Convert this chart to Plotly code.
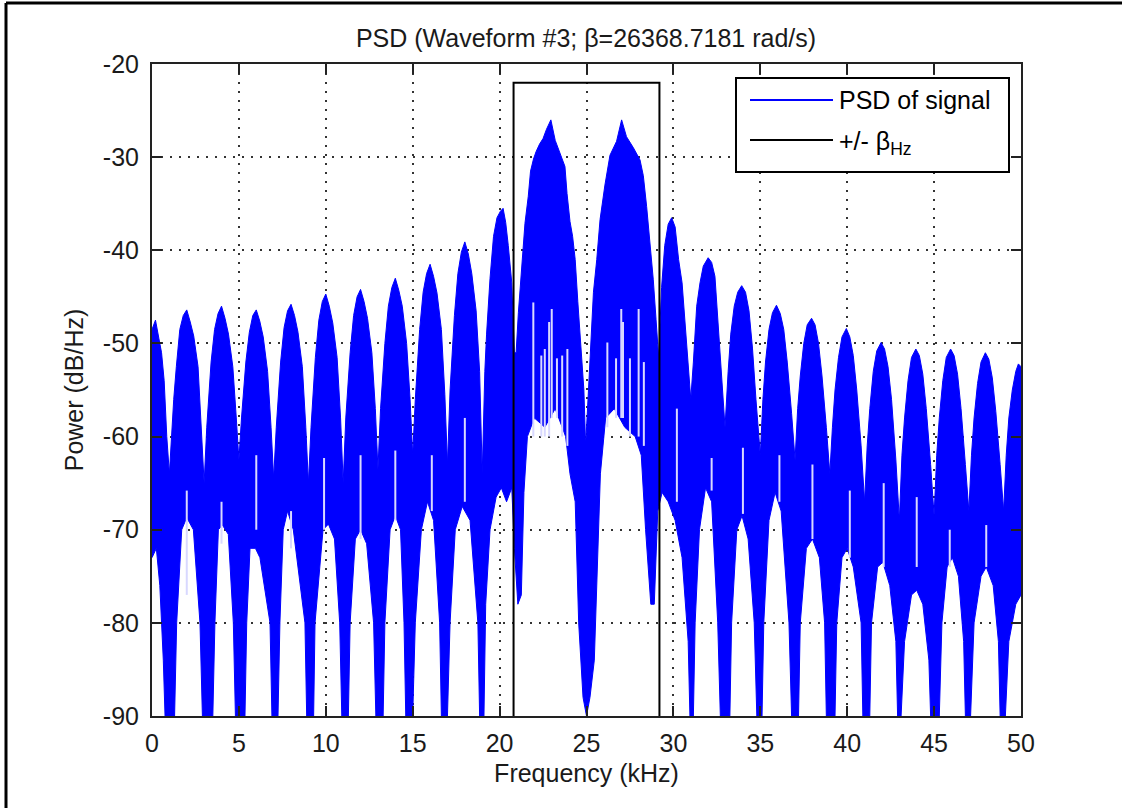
import math
import plotly.graph_objects as go

# ---------------- data ----------------
# Upper envelope of the PSD trace (frequency in kHz, power in dB/Hz)
upper_f = [0.0, 0.2, 0.4, 0.55, 0.7, 0.85, 1.0,
           1.15, 1.25, 1.4, 1.6, 1.8, 2.0, 2.2, 2.4, 2.65, 2.85, 3.0,
           3.15, 3.25, 3.4, 3.6, 3.8, 4.0, 4.2, 4.4, 4.65, 4.85, 5.0,
           5.15, 5.25, 5.4, 5.6, 5.8, 6.0, 6.2, 6.4, 6.65, 6.85, 7.0,
           7.15, 7.25, 7.4, 7.6, 7.8, 8.0, 8.2, 8.4, 8.65, 8.85, 9.0,
           9.15, 9.25, 9.4, 9.6, 9.8, 10.0, 10.2, 10.4, 10.65, 10.85, 11.0,
           11.15, 11.25, 11.4, 11.6, 11.8, 12.0, 12.2, 12.4, 12.65, 12.85, 13.0,
           13.15, 13.25, 13.4, 13.6, 13.8, 14.0, 14.2, 14.4, 14.65, 14.85, 15.0,
           15.15, 15.25, 15.4, 15.6, 15.8, 16.0, 16.2, 16.4, 16.65, 16.85, 17.0,
           17.15, 17.25, 17.4, 17.6, 17.8, 18.0, 18.2, 18.4, 18.65, 18.85, 19.0,
           19.15, 19.25, 19.45, 19.65, 19.85, 20.05, 20.2, 20.35, 20.5, 20.7, 20.85,
           20.95, 21.08, 21.27, 21.46, 21.65, 21.78, 21.95, 22.1, 22.3, 22.5, 22.7,
           22.95, 23.2, 23.4, 23.6, 23.76, 23.88, 24.05, 24.2, 24.35, 24.5, 24.7,
           24.85, 24.95,
           25.1, 25.22, 25.4, 25.59, 25.78, 26.06, 26.35, 26.73, 27.02, 27.3, 27.7,
           28.08, 28.27, 28.46, 28.65, 28.84, 29.0, 29.15,
           29.32, 29.5, 29.7, 29.9, 30.1, 30.3, 30.5, 30.7, 30.85, 31.0,
           31.15, 31.34, 31.53, 31.72, 32.0, 32.2, 32.39, 32.58, 32.78, 32.97,
           33.15, 33.3, 33.5, 33.7, 33.93, 34.15, 34.35, 34.55, 34.75, 35.0,
           35.15, 35.3, 35.5, 35.7, 35.93, 36.15, 36.35, 36.55, 36.8, 37.0,
           37.15, 37.3, 37.5, 37.7, 37.95, 38.15, 38.35, 38.55, 38.8, 39.0,
           39.15, 39.3, 39.5, 39.7, 39.95, 40.15, 40.35, 40.55, 40.8, 41.0,
           41.15, 41.3, 41.5, 41.7, 41.95, 42.15, 42.35, 42.55, 42.8, 43.0,
           43.15, 43.3, 43.5, 43.7, 43.95, 44.15, 44.35, 44.55, 44.8, 45.0,
           45.15, 45.3, 45.5, 45.7, 45.95, 46.15, 46.35, 46.55, 46.8, 47.0,
           47.15, 47.3, 47.5, 47.7, 47.95, 48.15, 48.35, 48.55, 48.8, 49.0,
           49.15, 49.3, 49.5, 49.7, 49.85, 50.0]
upper_db = [-48.5, -47.5, -49.5, -51, -54, -60, -64,
            -59, -56, -52.5, -48.5, -47, -46.4, -47.7, -49.2, -52.5, -59, -65,
            -59, -56, -52, -48.5, -46.8, -46.0, -47.3, -49, -52.5, -58, -62.5,
            -58, -55.5, -52, -48.8, -47, -46.4, -47.6, -49.3, -53, -59, -64.5,
            -59, -56, -52, -48.3, -46.5, -45.8, -47, -48.8, -52.5, -59, -65,
            -59, -55.5, -51.5, -47.5, -45.5, -44.7, -46, -47.8, -51.5, -58, -65,
            -58, -55, -51, -47, -45, -44.2, -45.5, -47.3, -51, -57, -63.5,
            -57, -54, -50, -46, -44, -43.0, -44.3, -46, -50, -56, -62,
            -56, -53, -48.5, -44.5, -42.5, -41.5, -42.8, -44.6, -48.5, -55.5, -63,
            -55, -52, -47, -42.5, -40.2, -39.1, -40.4, -42.5, -46.5, -53, -64,
            -53, -49, -43, -38.5, -36.5, -35.8, -35.5, -37, -39.5, -43.5, -51,
            -51, -46.7, -42.3, -37.1, -34.2, -31.5, -30.2, -29.4, -28.6, -28, -27,
            -26, -28.2, -29.2, -30.1, -31, -33.9, -36.9, -38.5, -41, -45.5, -51.5,
            -55, -61,
            -55, -50, -44.5, -41, -36.7, -33, -29.8, -28.3, -26, -27.8, -29,
            -30.3, -32, -35.3, -39.2, -43.1, -47.4, -51.5,
            -44, -39.5, -37.2, -36.5, -37.5, -41, -43.5, -48.5, -53, -56,
            -52, -46, -43.5, -41.7, -40.8, -41.3, -42.8, -48, -53.8, -59,
            -53, -49, -46, -44.5, -43.8, -44.5, -46.5, -50.5, -56, -62,
            -56, -52, -48.5, -46.7, -45.9, -46.8, -48.5, -52, -57.5, -62.5,
            -57, -53.5, -50, -48, -47.3, -48, -50, -53.5, -59, -64,
            -59, -55, -51.5, -49.3, -48.4, -49.3, -51.3, -55, -61, -67,
            -61, -57, -53, -50.8, -49.9, -50.6, -52.5, -56, -62.5, -69,
            -62, -58, -54, -51.5, -50.6, -51.3, -53.3, -57, -63, -68.5,
            -62, -58, -54, -51.5, -50.6, -51.3, -53.3, -57, -63, -68,
            -62, -58, -54.3, -52, -51, -51.7, -53.7, -57.3, -63, -68,
            -62, -58, -55, -53, -52.2, -52.5]

# Lower envelope of the PSD trace
lower_f = [0.0, 0.25, 0.45, 0.65, 0.75, 1.3, 1.42, 1.71, 2.0, 2.38, 2.76, 2.9,
           3.5, 3.62, 3.82, 4.05, 4.39, 4.68, 4.8, 5.35, 5.45, 5.64, 5.95, 6.21,
           6.79, 6.9, 7.25, 7.36, 7.55, 7.8, 8.13, 8.8, 8.9, 9.3, 9.38, 9.84,
           10.15, 10.5, 10.8, 10.92, 11.3, 11.4, 11.7, 12.0, 12.35, 12.75, 12.88,
           13.3, 13.4, 13.7, 14.0, 14.3, 14.5, 14.6, 15.0, 15.15, 15.5, 15.85,
           16.2, 16.55, 16.65, 17.0, 17.15, 17.45, 17.85, 18.3, 18.75, 18.85,
           19.1, 19.2, 19.45, 19.8, 20.1, 20.4, 20.7, 20.85, 21.05, 21.25, 21.4, 21.6,
           22.0, 22.6, 23.2, 23.8, 24.05, 24.35, 24.55, 24.8, 25.0, 25.2, 25.45,
           25.65, 25.8, 26.1, 26.6, 27.2, 27.8, 28.15, 28.4, 28.7, 28.9, 29.1,
           29.35, 29.7, 30.1, 30.5, 30.85, 30.95, 31.15, 31.25, 31.5, 31.85,
           32.2, 32.55, 32.7, 33.25, 33.35, 33.65, 33.95, 34.3, 34.65, 34.8,
           35.1, 35.2, 35.5, 35.85, 36.2, 36.65, 36.8, 37.2, 37.3, 37.65, 38.0,
           38.4, 38.7, 38.8, 39.3, 39.4, 39.7, 40.0, 40.35, 40.8, 40.9, 41.3,
           41.4, 41.75, 42.05, 42.45, 42.8, 42.9, 43.1, 43.3, 43.7, 44.0, 44.35,
           44.7, 44.8, 45.3, 45.45, 45.75, 46.05, 46.4, 46.7, 46.8, 47.1, 47.3,
           47.7, 48.0, 48.4, 48.7, 48.8, 49.1, 49.3, 49.7, 50.0]
lower_db = [-73, -72, -76, -84, -90, -90, -80, -70, -68.7, -70, -80, -90,
            -90, -80, -70, -69.5, -70.5, -80, -90, -90, -80, -72, -72, -73,
            -80, -90, -90, -80, -70, -68, -70, -80, -90, -90, -80, -70,
            -69.4, -71, -80, -90, -90, -80, -71, -70, -71.5, -80, -90,
            -90, -80, -70, -68.5, -70, -80, -90, -90, -80, -70, -67,
            -69, -80, -90, -90, -80, -70, -67.5, -69, -80, -90,
            -90, -78, -70, -66.5, -65.5, -67, -65.5, -72, -78, -77, -66, -60,
            -58, -59, -57, -60, -64, -67, -80, -88, -90, -88, -84,
            -72, -64, -58, -57, -59, -60, -62, -70, -78, -78, -68,
            -66, -67, -69, -73, -82, -90, -90, -80, -70, -65.5,
            -67, -80, -90, -90, -80, -70, -68.5, -71, -80, -90,
            -90, -80, -69, -66, -68, -80, -90, -90, -80, -72, -71,
            -73, -80, -90, -90, -80, -73, -72, -74, -80, -90, -90,
            -80, -74, -73.5, -76, -82, -90, -90, -82, -77, -76.5, -78,
            -84, -90, -90, -80, -74, -73, -75, -82, -90, -90, -80,
            -75, -74, -76, -82, -90, -90, -82, -78, -77]

# Thin white notches visible inside the blue band (frequency, top dB, bottom dB)
notch_f = [21.94, 22.4, 22.6, 22.85, 23.0, 23.3, 23.6, 23.9,
           26.2, 26.7, 27.0, 27.1, 27.5, 28.0, 28.3,
           2.0, 4.0, 6.0, 8.0, 9.9, 12.0, 14.0, 16.1, 18.0,
           30.2, 32.2, 34.0, 36.1, 38.0, 40.15, 42.1, 44.0, 45.9, 48.0]
notch_top = [-45.6, -51.3, -50.6, -47.7, -46.3, -51.6, -51.3, -50.6,
             -49.9, -51.6, -46.3, -47.7, -51.6, -46.3, -52.0,
             -65.8, -67.0, -62.0, -68.0, -62.3, -62.0, -61.5, -62.0, -58.0,
             -57.0, -62.3, -61.2, -62.0, -63.0, -65.8, -65.0, -66.5, -70.0, -69.5]
notch_bot = [-60.0, -60.0, -60.0, -60.0, -58.0, -58.0, -60.0, -61.0,
             -59.0, -58.0, -58.0, -58.0, -60.0, -60.0, -61.0,
             -77.0, -71.5, -70.0, -72.0, -70.0, -71.0, -69.0, -68.0, -67.0,
             -67.0, -65.8, -68.3, -67.0, -71.0, -73.0, -74.0, -74.0, -74.0, -74.0]

# +/- beta_Hz box
beta_rad = 26368.7181            # rad/s, from the title
center_khz = 25.0
box_top_db = -22.0

x_ticks = [0, 5, 10, 15, 20, 25, 30, 35, 40, 45, 50]
y_ticks = [-90, -80, -70, -60, -50, -40, -30, -20]

# ---------------- figure ----------------
beta_khz = beta_rad / (2 * math.pi) / 1000.0
box_x = [center_khz - beta_khz, center_khz - beta_khz, center_khz + beta_khz, center_khz + beta_khz]
box_y = [-90, box_top_db, box_top_db, -90]

BLUE = "#0000FF"
FONT = "Liberation Sans, Arial, sans-serif"
FS = 25
TXT = "#1a1a1a"

fig = go.Figure()

poly_x = upper_f + lower_f[::-1]
poly_y = upper_db + lower_db[::-1]
fig.add_trace(go.Scatter(x=poly_x, y=poly_y, mode="lines", fill="toself",
                         fillcolor=BLUE, line=dict(color=BLUE, width=1),
                         name="PSD of signal", showlegend=False, hoverinfo="skip"))

nx, ny = [], []
for f, t, b in zip(notch_f, notch_top, notch_bot):
    nx += [f, f, None]
    ny += [t, b, None]
fig.add_trace(go.Scatter(x=nx, y=ny, mode="lines", line=dict(color="#d8d8ff", width=2),
                         showlegend=False, hoverinfo="skip", name="notches"))

fig.add_trace(go.Scatter(x=box_x, y=box_y, mode="lines",
                         line=dict(color="black", width=2),
                         name="+/- β<sub>Hz</sub>", showlegend=False))

L, R, T, B = 152, 101, 64, 92
W, H = 1122, 808
pw, ph = W - L - R, H - T - B


def px(xp):
    return (xp - L) / pw


def py(yp):
    return (H - B - yp) / ph


axis_common = dict(showline=True, linecolor="#222222", linewidth=2, mirror="allticks",
                   ticks="inside", ticklen=10, tickwidth=2, tickcolor="#222222",
                   showgrid=True, gridcolor="#333333", gridwidth=1.5, griddash="2px,7px",
                   zeroline=False, tickfont=dict(family=FONT, size=FS, color=TXT))

fig.update_xaxes(range=[0, 50], tickvals=x_ticks, ticktext=[str(v) for v in x_ticks],
                 title=dict(text="Frequency (kHz)", font=dict(family=FONT, size=FS, color=TXT),
                            standoff=8),
                 ticklabelstandoff=4, **axis_common)
fig.update_yaxes(range=[-90, -20], tickvals=y_ticks, ticktext=[str(v) for v in y_ticks],
                 title=dict(text="Power (dB/Hz)", font=dict(family=FONT, size=FS, color=TXT),
                            standoff=12),
                 ticklabelstandoff=6, **axis_common)

shapes = []
# legend box (drawn by hand so the line samples match the original length)
shapes.append(dict(type="rect", xref="paper", yref="paper",
                   x0=px(736), x1=px(1009), y0=py(172), y1=py(78),
                   line=dict(color="black", width=2), fillcolor="white", layer="above"))
shapes.append(dict(type="line", xref="paper", yref="paper",
                   x0=px(750), x1=px(833), y0=py(100), y1=py(100),
                   line=dict(color=BLUE, width=2), layer="above"))
shapes.append(dict(type="line", xref="paper", yref="paper",
                   x0=px(750), x1=px(833), y0=py(140), y1=py(140),
                   line=dict(color="black", width=2), layer="above"))
# outer figure border (left and top)
shapes.append(dict(type="line", xref="paper", yref="paper",
                   x0=px(6), x1=px(6), y0=py(3), y1=py(808), line=dict(color="black", width=3)))
shapes.append(dict(type="line", xref="paper", yref="paper",
                   x0=px(6), x1=px(1122), y0=py(3), y1=py(3), line=dict(color="black", width=3)))

annotations = [
    dict(xref="paper", yref="paper", x=px(837), y=py(100), xanchor="left", yanchor="middle",
         text="PSD of signal", showarrow=False, font=dict(family=FONT, size=FS, color="black")),
    dict(xref="paper", yref="paper", x=px(837), y=py(143), xanchor="left", yanchor="middle",
         text="+/- β<sub>Hz</sub>", showarrow=False, font=dict(family=FONT, size=FS, color="black")),
]

fig.update_layout(
    width=W, height=H,
    margin=dict(l=L, r=R, t=T, b=B),
    paper_bgcolor="white", plot_bgcolor="white",
    title=dict(text="PSD (Waveform #3; β=26368.7181 rad/s)", x=px(586), xanchor="center",
               y=1 - 38 / H, yanchor="middle", yref="container", xref="paper",
               font=dict(family=FONT, size=FS, color=TXT)),
    shapes=shapes, annotations=annotations, showlegend=False,
)

fig.write_html("out.html")
